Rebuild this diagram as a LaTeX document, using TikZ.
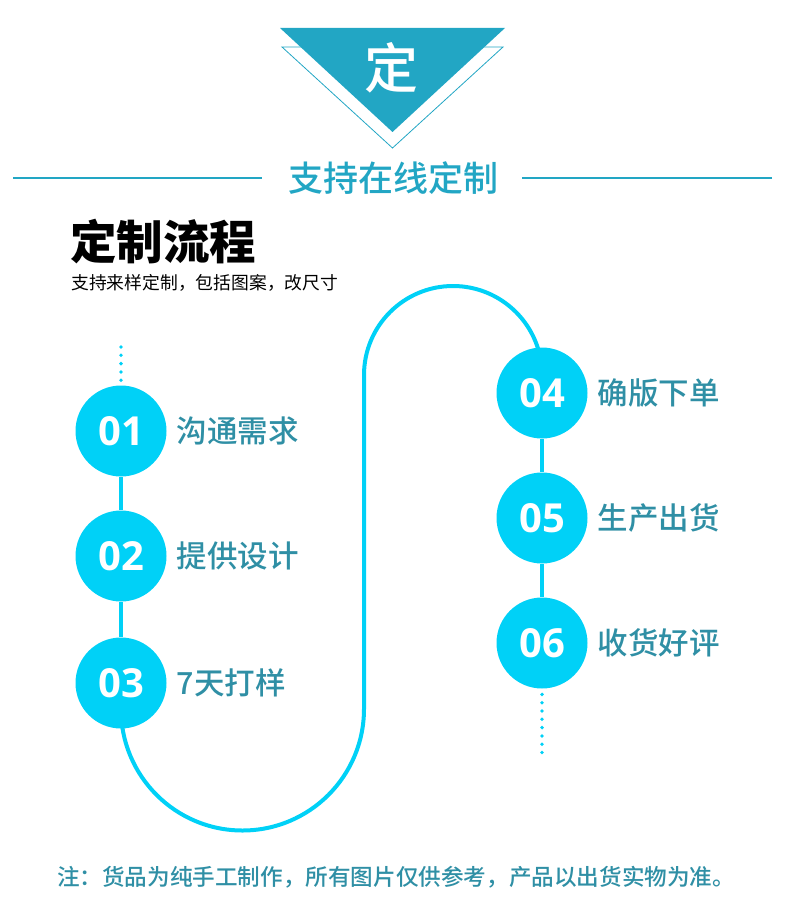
\documentclass[tikz,border=0pt]{standalone}
\usepackage{fontspec}
\newfontfamily\cjk{Noto Sans CJK SC}
\newfontfamily\cjkmed{Noto Sans CJK SC Medium}
\newfontfamily\numfont{Open Sans}
\usetikzlibrary{positioning,backgrounds}

\definecolor{teal}{HTML}{22A6C4}
\definecolor{stepcyan}{HTML}{00D1F7}
\definecolor{labeltxt}{HTML}{2F8FA5}

\tikzset{
  stepdot/.style={circle, fill=stepcyan, minimum size=91pt, inner sep=0pt,
    text=white, font=\numfont\bfseries\fontsize{40}{44}\selectfont},
  steplabel/.style={right=10pt of #1, inner sep=0pt, text=labeltxt,
    font=\cjkmed\fontsize{30.5}{33}\selectfont},
  flow/.style={stepcyan, line width=4pt},
  dotline/.style={stepcyan, line width=3.8pt, line cap=round, dash pattern=on 0pt off 8.3pt}
}

\begin{document}
\begin{tikzpicture}[x=1pt,y=1pt]
    \useasboundingbox (0,0) rectangle (790,-912);

    % top badge
    \draw[teal, line width=0.8pt](282,-47) -- (503,-47) -- (392.5,-148) -- cycle;
    \fill[teal](280,-28) -- (505,-28) -- (392.5,-132) -- cycle;
    \node[text=white, font=\cjkmed\fontsize{54}{58}\selectfont] (badge) at (391.5,-68) {定};

    % heading
    \node[text=teal, font=\cjkmed\fontsize{35}{38}\selectfont] (title) at (393,-178) {支持在线定制};
    \coordinate (ruleL) at (13,-178);
    \coordinate (ruleR) at (772,-178);
    \draw[teal, line width=2.5pt](ruleL) -- ++(249,0);
    \draw[teal, line width=2.5pt](ruleR) -- ++(-250,0);

    \node[anchor=west, inner sep=0pt, font=\cjk\bfseries\fontsize{46.5}{50}\selectfont] (flowhead) at (70,-242) {定制流程};
    \node[anchor=west, inner sep=0pt, font=\cjk\fontsize{17.8}{20}\selectfont] (flowsub) at (71,-283) {支持来样定制，包括图案，改尺寸};

    % steps
    \node[stepdot] (c1) at (121,-431) {01};
    \node[stepdot] (c2) at (121,-556) {02};
    \node[stepdot] (c3) at (121,-683) {03};
    \node[stepdot] (c4) at (542,-393) {04};
    \node[stepdot] (c5) at (542,-518) {05};
    \node[stepdot] (c6) at (542,-643) {06};

    \node[steplabel=c1] (l1) {沟通需求};
    \node[steplabel=c2] (l2) {提供设计};
    \node[steplabel=c3] (l3) {7天打样};
    \node[steplabel=c4] (l4) {确版下单};
    \node[steplabel=c5] (l5) {生产出货};
    \node[steplabel=c6] (l6) {收货好评};

    \coordinate (topdots) at (121,-347);
    \coordinate (enddots) at (542,-752.5);

    \begin{scope}[on background layer]
    \draw[flow](c1) -- (c2) -- (c3);
    \draw[flow](c4) -- (c5) -- (c6);
    \draw[flow](c3.center) -- ++(0,-26) arc[start angle=180, end angle=360, radius=121.5]
        -- ++(0,334) arc[start angle=180, end angle=0, radius=89] -- (c4.center);
    \end{scope}
    \draw[dotline](topdots) -- ++(0,-33.5);
    \draw[dotline](enddots) -- ++(0,58.5);

    % footer
    \node[text=labeltxt, font=\cjkmed\fontsize{22.6}{25}\selectfont] (note) at (396,-877) {注：货品为纯手工制作，所有图片仅供参考，产品以出货实物为准。};

\end{tikzpicture}
\end{document}
